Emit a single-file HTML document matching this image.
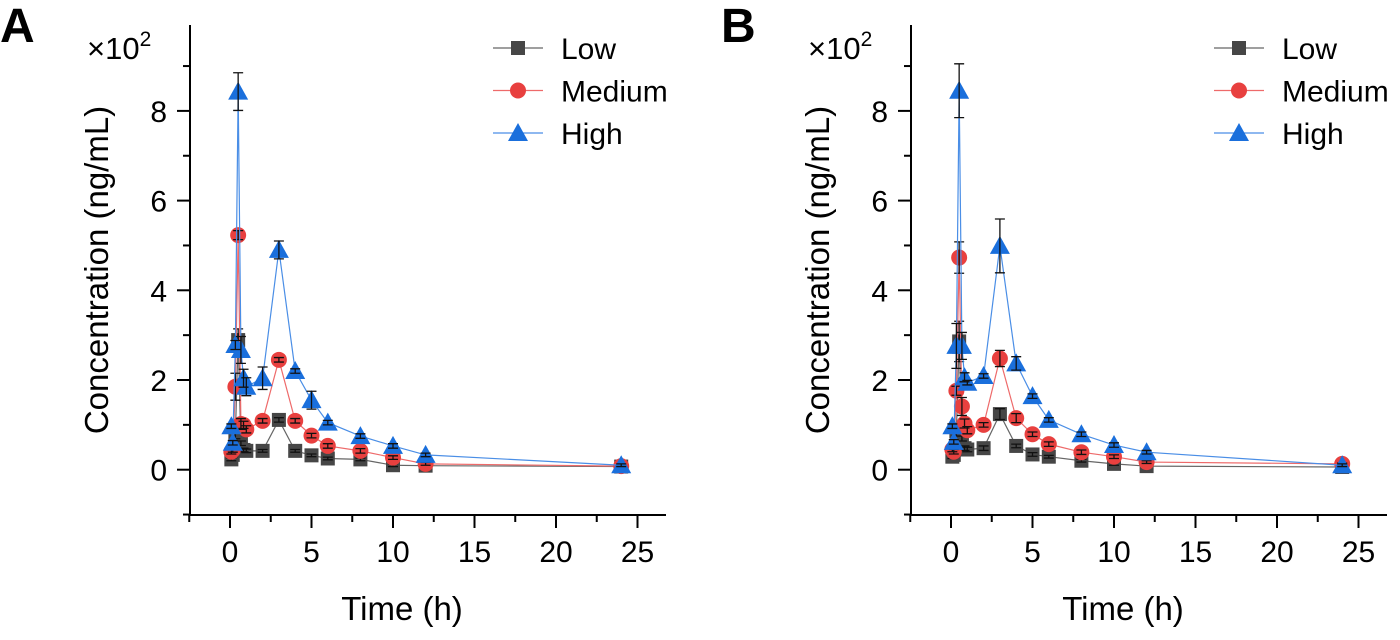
<!DOCTYPE html>
<html><head><meta charset="utf-8"><style>
body{margin:0;background:#fff;width:1400px;height:635px;overflow:hidden}
svg text{font-family:"Liberation Sans",Arial,sans-serif;fill:#000}
</style></head><body>
<svg id="c" width="1400" height="635" viewBox="0 0 1400 635"></svg>
<script>
const times=[0.083,0.17,0.33,0.5,0.67,0.83,1,2,3,4,5,6,8,10,12,24];
const xTicks=[0,5,10,15,20,25];
const yTicks=[0,2,4,6,8];
const seriesNames=["Low","Medium","High"];
const lowA=[0.23,0.33,0.79,2.89,0.59,0.44,0.42,0.42,1.11,0.42,0.32,0.25,0.23,0.10,0.09,0.07];
const medA=[0.40,0.44,1.85,5.23,1.02,1.00,0.90,1.09,2.45,1.09,0.76,0.53,0.42,0.27,0.13,0.08];
const highA=[0.97,0.60,2.78,8.43,2.67,2.04,1.85,2.04,4.90,2.20,1.55,1.05,0.75,0.53,0.33,0.10];
const lowB=[0.29,0.33,0.85,2.86,0.74,0.48,0.45,0.48,1.24,0.53,0.34,0.29,0.20,0.13,0.08,0.06];
const medB=[0.45,0.40,1.76,4.73,1.41,1.03,0.88,1.00,2.48,1.15,0.79,0.57,0.39,0.29,0.17,0.13];
const highB=[0.97,0.62,2.76,8.45,2.76,2.06,1.94,2.09,4.99,2.37,1.64,1.11,0.79,0.55,0.39,0.10];
const errLowA=[0.03,0.04,0.1,0.25,0.05,0.04,0.04,0.03,0.05,0.03,0.03,0.03,0.03,0.03,0.02,0.02];
const errMedA=[0.05,0.05,0.3,0.1,0.12,0.08,0.08,0.05,0.05,0.05,0.05,0.05,0.05,0.04,0.03,0.02];
const errHighA=[0.05,0.05,0.1,0.42,0.3,0.2,0.2,0.25,0.2,0.05,0.2,0.05,0.05,0.05,0.04,0.03];
const errLowB=[0.04,0.04,0.1,0.45,0.1,0.05,0.05,0.05,0.12,0.04,0.04,0.03,0.03,0.03,0.02,0.02];
const errMedB=[0.05,0.05,0.1,0.35,0.2,0.1,0.08,0.05,0.18,0.1,0.05,0.05,0.05,0.04,0.03,0.02];
const errHighB=[0.05,0.05,0.5,0.6,0.3,0.1,0.05,0.05,0.6,0.15,0.05,0.05,0.05,0.05,0.04,0.03];
const colors=["#464646","#e8403f","#1a6fdc"];
const lineColors=["#666","#ee6a6a","#4a8ee6"];
const NS="http://www.w3.org/2000/svg";
const svg=document.getElementById('c');
function mk(tag,attrs,parent,text){const e=document.createElementNS(NS,tag);for(const k in attrs)e.setAttribute(k,attrs[k]);if(text!==undefined)e.textContent=text;(parent||svg).appendChild(e);return e;}
function marker(g,k,x,y){
  if(k===0) return mk('rect',{x:x-7,y:y-7,width:14,height:14,fill:colors[0]},g);
  if(k===1) return mk('circle',{cx:x,cy:y,r:8,fill:colors[1]},g);
  return mk('polygon',{points:`${x},${y-10} ${x+10},${y+8} ${x-10},${y+8}`,fill:colors[2]},g);
}
function panel(ox,letter,data,errs){
  const x0=ox+40, pxh=16.3, y0=469.7, pxu=44.85;
  const X=t=>x0+t*pxh, Y=v=>y0-v*pxu;
  const g=mk('g',{},svg);
  
  
  const ax=ox, right=ox+476;
  mk('line',{x1:ax,y1:25,x2:ax,y2:515,stroke:'#000','stroke-width':2},g);
  mk('line',{x1:ax,y1:515,x2:right,y2:515,stroke:'#000','stroke-width':2},g);
  for(let v=-1;v<=9;v++){const maj=yTicks.includes(v);mk('line',{x1:ax-(maj?13:7),y1:Y(v),x2:ax,y2:Y(v),stroke:'#000','stroke-width':2},g);}
  yTicks.forEach(v=>{const t=mk('text',{x:ax-23,y:Y(v)+11,'font-size':30,'text-anchor':'end'},g,String(v));});
  for(let t=-2.5;t<=26;t+=2.5){const maj=xTicks.includes(t);mk('line',{x1:X(t),y1:515,x2:X(t),y2:515+(maj?13:7),stroke:'#000','stroke-width':2},g);}
  xTicks.forEach(t=>{const e=mk('text',{x:X(t),y:562,'font-size':30,'text-anchor':'middle'},g,String(t));});
  const yt=mk('text',{x:0,y:0,'font-size':33,'text-anchor':'middle',transform:`translate(${ax-82},270) rotate(-90)`},g,'Concentration (ng/mL)');
  
  const xt=mk('text',{x:ax+212,y:620,'font-size':33,'text-anchor':'middle'},g,'Time  (h)');
  
  const sc=mk('text',{x:ax-103,y:59,'font-size':31},g);
  
  sc.textContent='×10';mk('tspan',{'font-size':21,dy:-13},sc,'2');
  const pl=mk('text',{x:ax-190,y:42,'font-size':48,'font-weight':'bold'},g,letter);
  
  data.forEach((arr,k)=>{
    const sg=mk('g',{},g);
    
    
    mk('polyline',{points:arr.map((v,i)=>X(times[i])+','+Y(v)).join(' '),fill:'none',stroke:lineColors[k],'stroke-width':1.2},sg);
    arr.forEach((v,i)=>{
      const m=marker(sg,k,X(times[i]),Y(v));
      
    });
    arr.forEach((v,i)=>{
      const e=errs[k][i],x=X(times[i]);
      const eb=mk('path',{d:`M${x},${Y(v-e)}V${Y(v+e)}M${x-5},${Y(v+e)}H${x+5}M${x-5},${Y(v-e)}H${x+5}`,stroke:'#111','stroke-width':1.3,fill:'none'},sg);
      
    });
  });
  seriesNames.forEach((n,k)=>{
    const lg=mk('g',{},g);
    
    
    const ly=48+k*42.5, lx=ox+303;
    mk('line',{x1:lx,y1:ly,x2:lx+50,y2:ly,stroke:lineColors[k],'stroke-width':1.2},lg);
    marker(lg,k,lx+25,ly);
    mk('text',{x:lx+68,y:ly+11,'font-size':30},lg,n);
  });
}
panel(190,'A',[lowA,medA,highA],[errLowA,errMedA,errHighA]);
panel(911,'B',[lowB,medB,highB],[errLowB,errMedB,errHighB]);
</script>
</body></html>
